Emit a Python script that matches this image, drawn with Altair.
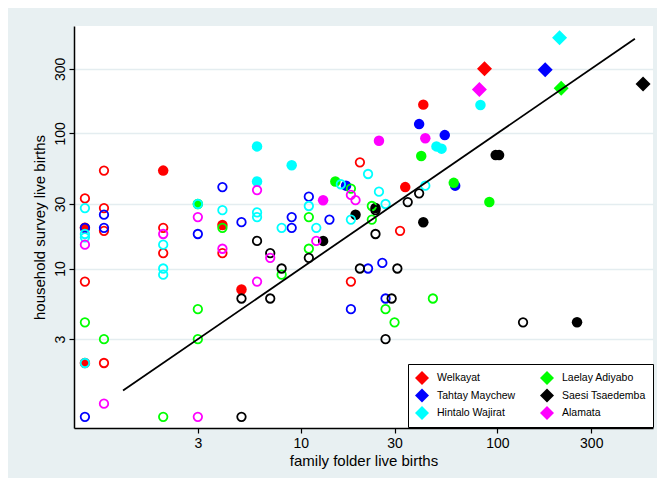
import altair as alt
import pandas as pd

# legend order (filled column by column in a 2-column legend)
districts = ["Welkayat", "Tahtay Maychew", "Hintalo Wajirat", "Laelay Adiyabo", "Saesi Tsaedemba", "Alamata"]
district_colors = ["#ff0000", "#0000ff", "#00ffff", "#00ff00", "#000000", "#ff00ff"]
codes = {"W": "Welkayat", "T": "Tahtay Maychew", "H": "Hintalo Wajirat",
         "L": "Laelay Adiyabo", "S": "Saesi Tsaedemba", "A": "Alamata"}

# open circles: (district code, family folder, household survey)
open_d = (["W"] * 12 + ["T"] * 15 + ["H"] * 20 + ["L"] * 15 + ["S"] * 16 + ["A"] * 12)
open_ff = [0, 1, 1, 1, 2, 2, 4, 0, 1, 20, 32, 18,
           4, 1, 0, 1, 3, 5, 0, 11, 9, 9, 14, 22, 26, 18, 27,
           0, 0, 0, 3, 4, 6, 6, 2, 2, 2, 0, 11, 8, 12, 16, 18, 22, 25, 27, 43,
           4, 0, 1, 3, 3, 2, 8, 11, 11, 18, 23, 23, 27, 30, 47,
           6, 5, 5, 7, 7, 8, 11, 24, 24, 35, 40, 20, 31, 29, 27, 135,
           0, 1, 2, 3, 3, 4, 6, 6, 7, 12, 18, 19]
open_hh = [33, 53, 28, 19, 20, 13, 13, 8, 2, 61, 19, 8,
           40, 25, 20, 20, 18, 22, 0, 34, 24, 20, 23, 10, 11, 5, 6,
           28, 18, 17, 30, 27, 26, 24, 15, 10, 9, 2, 29, 20, 20, 42, 23, 50, 37, 30, 41,
           20, 4, 3, 5, 3, 0, 9, 24, 14, 39, 29, 23, 5, 4, 6,
           16, 6, 0, 13, 6, 10, 12, 27, 18, 31, 36, 10, 10, 6, 3, 4,
           15, 1, 18, 24, 0, 14, 38, 8, 12, 16, 35, 32]

# filled circles
fill_d = ["W"] * 7 + ["T"] * 4 + ["H"] * 6 + ["L"] * 5 + ["S"] * 7 + ["A"] * 3
fill_ff = [2, 4, 0, 0, 5, 34, 42,
           17, 40, 54, 61,
           6, 6, 9, 49, 52, 82,
           3, 15, 41, 60, 91,
           13, 19, 24, 42, 98, 102, 254,
           13, 25, 43]
fill_hh = [53, 21, 20, 2, 7, 40, 163,
           41, 117, 97, 41,
           80, 44, 58, 80, 77, 162,
           30, 44, 68, 43, 31,
           16, 25, 28, 22, 69, 69, 4,
           32, 88, 92]

# district totals (diamonds)
dia_d = ["W", "T", "H", "L", "S", "A"]
dia_ff = [86, 175, 207, 211, 550, 81]
dia_hh = [300, 295, 510, 215, 232, 211]

# line of equality
line_v = [1.25, 500]

ticks = [3, 10, 30, 100, 300]

df_open = pd.DataFrame({"district": [codes[c] for c in open_d], "ff": open_ff, "hh": open_hh})
df_fill = pd.DataFrame({"district": [codes[c] for c in fill_d], "ff": fill_ff, "hh": fill_hh})
df_dia = pd.DataFrame({"district": [codes[c] for c in dia_d], "ff": dia_ff, "hh": dia_hh})
df_line = pd.DataFrame({"ff": line_v, "hh": line_v})

xscale = alt.Scale(type="log", domain=[0.704, 618], nice=False, zero=False)
yscale = alt.Scale(type="log", domain=[0.661, 622], nice=False, zero=False)
cscale = alt.Scale(domain=districts, range=district_colors)

xaxis = alt.Axis(values=ticks, format="d", title="family folder live births", grid=False,
                 labelFontSize=14, titleFontSize=15, labelPadding=3, titlePadding=3)
yaxis = alt.Axis(values=ticks, format="d", title="household survey live births", grid=True,
                 labelAngle=270, labelAlign="center", labelBaseline="bottom",
                 labelFontSize=14, titleFontSize=15, labelPadding=2, titlePadding=6)

X = alt.X("xp:Q", scale=xscale, axis=xaxis)
Y = alt.Y("yp:Q", scale=yscale, axis=yaxis)

zero_fix = dict(xp="datum.ff == 0 ? 0.8 : datum.ff", yp="datum.hh == 0 ? 0.8 : datum.hh")

open_layer = alt.Chart(df_open).transform_calculate(**zero_fix).mark_point(
    shape="circle", filled=False, size=72, strokeWidth=1.8, opacity=1
).encode(x=X, y=Y, stroke=alt.Stroke("district:N", scale=cscale, legend=None))

fill_layer = alt.Chart(df_fill).transform_calculate(**zero_fix).mark_point(
    shape="circle", filled=True, size=110, strokeWidth=0, opacity=1
).encode(x=X, y=Y, fill=alt.Fill("district:N", scale=cscale, legend=None))

dia_layer = alt.Chart(df_dia).transform_calculate(**zero_fix).mark_point(
    shape="diamond", filled=True, size=225, strokeWidth=0, opacity=1
).encode(
    x=X, y=Y,
    color=alt.Color("district:N", scale=cscale, legend=alt.Legend(
        orient="none", legendX=334, legendY=338, columns=2, title=None,
        symbolType="diamond", symbolSize=196, symbolStrokeWidth=0, symbolOpacity=1,
        labelFontSize=10.5, labelColor="black", padding=7, strokeColor="black",
        fillColor="white", columnPadding=24, rowPadding=3.5, labelOffset=8,
        cornerRadius=0))
)

line_layer = alt.Chart(df_line).transform_calculate(xp="datum.ff", yp="datum.hh").mark_line(
    color="black", strokeWidth=1.8
).encode(x=X, y=Y)

chart = alt.layer(fill_layer, open_layer, dia_layer, line_layer).resolve_scale(
    color="independent", fill="independent", stroke="independent"
).properties(
    width=579, height=402,
    autosize=alt.AutoSizeParams(type="none"),
    padding={"left": 66, "top": 18, "right": 4, "bottom": 50},
    background="#e8f0f2"
).configure_view(fill="white", stroke=None).configure_axis(
    labelFont="Liberation Sans", titleFont="Liberation Sans", labelColor="black",
    titleColor="black", titleFontWeight="normal", tickColor="black", tickSize=5,
    tickWidth=1.2, domainColor="black", domainWidth=1.5, gridColor="#e4edf0", gridWidth=1.5
).configure_legend(labelFont="Liberation Sans")

chart.save("out.html", embed_options={"renderer": "svg", "actions": False})
